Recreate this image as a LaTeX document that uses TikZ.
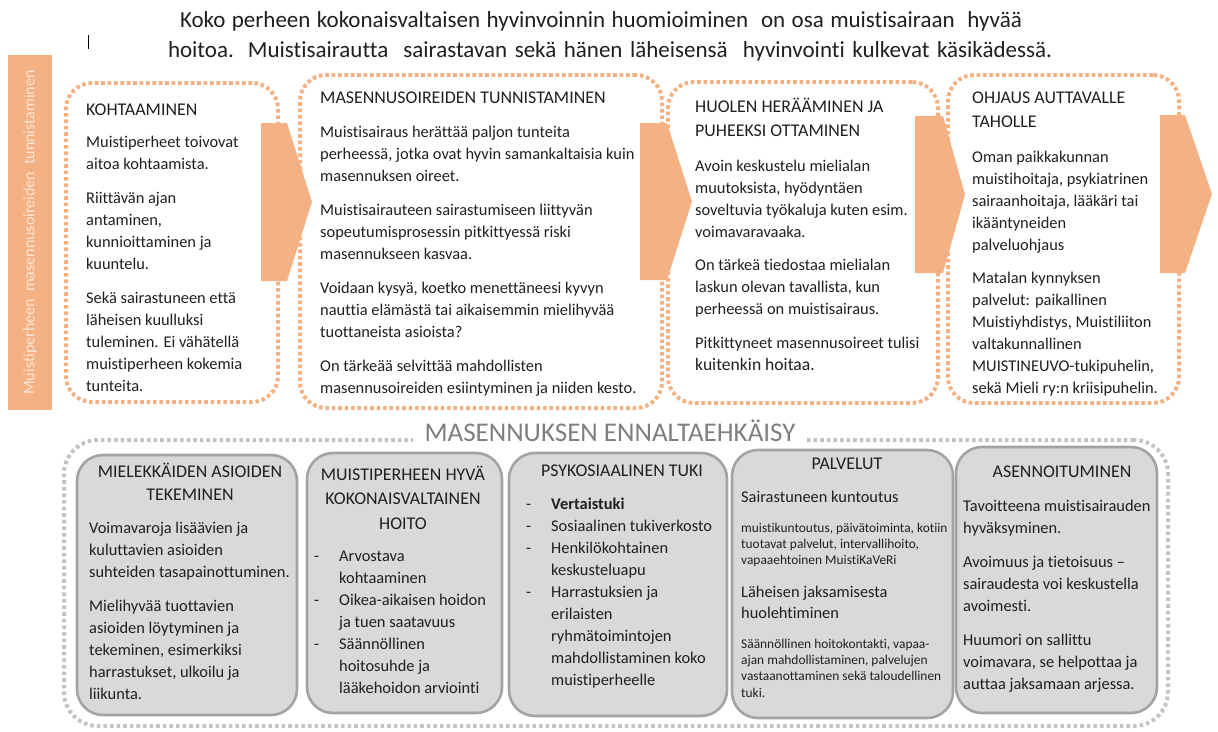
\documentclass[tikz,border=0pt]{standalone}
\usepackage{fontspec}
\setmainfont{Carlito}[Ligatures={NoCommon,NoContextual}]
\definecolor{org}{HTML}{F4B183}
\definecolor{gbd}{HTML}{A3A3A3}
\definecolor{gfill}{HTML}{D9D9D9}
\definecolor{gdot}{HTML}{C4C4C4}
\definecolor{ink}{HTML}{1F1F1F}
\definecolor{htitle}{HTML}{7F7F7F}
\definecolor{bartext}{HTML}{FCE6D8}
\newcommand{\bdash}{\makebox[25pt][l]{-}}
\newcommand{\bind}{\hspace*{25pt}}
\begin{document}
\begin{tikzpicture}[x=1pt,y=-1pt,
  obox/.style={draw=org, line width=4pt, dash pattern=on 3.6pt off 2.8pt, rounded corners=26pt, inner sep=0},
  gdotbox/.style={draw=gdot, line width=4pt, dash pattern=on 3.6pt off 3pt, rounded corners=34pt, inner sep=0},
  gbox/.style={draw=gbd, fill=gfill, line width=2.6pt, rounded corners=26pt, inner sep=0},
  chev/.style={fill=org},
  body/.style={anchor=north west, inner sep=0, align=left, text=ink, font=\fontsize{16.4}{22}\selectfont},
  small/.style={anchor=north west, inner sep=0, align=left, text=ink, font=\fontsize{13.4}{16.4}\selectfont},
  headl/.style={anchor=north west, inner sep=0, align=left, text=ink, font=\fontsize{17.9}{23.5}\selectfont},
  headc/.style={anchor=north, inner sep=0, align=center, text=ink, font=\fontsize{17.9}{23.5}\selectfont},
  ttl/.style={inner sep=0, text=ink, font=\fontsize{23}{28}\selectfont},
]
\useasboundingbox (0,0) rectangle (1218,731);

% title
\node[ttl] (t1) at (601,21) {\makebox[842pt][s]{Koko perheen kokonaisvaltaisen hyvinvoinnin huomioiminen\ \ on osa muistisairaan\ \ hyvää}};
\node[ttl] (t2) at (610,51) {\makebox[884pt][s]{hoitoa. Muistisairautta\ \ sairastavan sekä hänen läheisensä\ \ hyvinvointi kulkevat käsikädessä.}};
\draw[line width=1pt, black] (88,35) -- (88,49);

% left bar
\node[fill=org, minimum width=44pt, minimum height=355pt, inner sep=0] (bar) at (30,232.5) {};
\node[rotate=90, inner sep=0, text=bartext, font=\fontsize{16}{19}\selectfont] (bartxt) at (bar.center) {Muistiperheen\ \ masennusoireiden\ \ tunnistaminen};

% orange dotted boxes
\node[obox, minimum width=212pt, minimum height=319pt] (b1) at (172,242.5) {};
\node[obox, minimum width=362pt, minimum height=333pt] (b2) at (481,241.5) {};
\node[obox, minimum width=270pt, minimum height=321pt] (b3) at (803,242.5) {};
\node[obox, minimum width=231pt, minimum height=328pt] (b4) at (1063.5,239) {};

% chevrons
\fill[chev] (261,123) -- (287,123) -- (312,202) -- (287,281) -- (261,281) -- cycle;
\fill[chev] (640,123) -- (667,123) -- (692,201.5) -- (667,280) -- (640,280) -- cycle;
\fill[chev] (915,116) -- (943,116) -- (965,194.5) -- (943,273) -- (915,273) -- cycle;
\fill[chev] (1160,115) -- (1185,115) -- (1212,194) -- (1185,273) -- (1160,273) -- cycle;

% box 1 text
\node[headl] (b1h) at (86,99) {\strut KOHTAAMINEN};
\node[body] (b1t) at (86,132) {\strut Muistiperheet toivovat\\aitoa kohtaamista.\\[12pt]Riittävän ajan\\antaminen,\\kunnioittaminen ja\\kuuntelu.\\[12pt]Sekä sairastuneen että\\läheisen kuulluksi\\tuleminen. Ei vähätellä\\muistiperheen kokemia\\tunteita.};

% box 2 text
\node[headl] (b2h) at (320,87) {\strut MASENNUSOIREIDEN TUNNISTAMINEN};
\node[body] (b2t) at (320,122) {\strut Muistisairaus herättää paljon tunteita\\perheessä, jotka ovat hyvin samankaltaisia kuin\\masennuksen oireet.\\[12pt]Muistisairauteen sairastumiseen liittyvän\\sopeutumisprosessin pitkittyessä riski\\masennukseen kasvaa.\\[12pt]Voidaan kysyä, koetko menettäneesi kyvyn\\nauttia elämästä tai aikaisemmin mielihyvää\\tuottaneista asioista?\\[12pt]On tärkeää selvittää mahdollisten\\masennusoireiden esiintyminen ja niiden kesto.};

% box 3 text
\node[headl] (b3h) at (695,96) {\strut HUOLEN HERÄÄMINEN JA\\PUHEEKSI OTTAMINEN};
\node[body] (b3t) at (695,156) {\strut Avoin keskustelu mielialan\\muutoksista, hyödyntäen\\soveltuvia työkaluja kuten esim.\\voimavaravaaka.\\[11pt]On tärkeä tiedostaa mielialan\\laskun olevan tavallista, kun\\perheessä on muistisairaus.\\[12pt]Pitkittyneet masennusoireet tulisi\\{\fontsize{17.6}{22}\selectfont kuitenkin hoitaa.}};

% box 4 text
\node[headl] (b4h) at (972,87) {\strut OHJAUS AUTTAVALLE\\TAHOLLE};
\node[body] (b4t) at (972,147) {\strut Oman paikkakunnan\\muistihoitaja, psykiatrinen\\sairaanhoitaja, lääkäri tai\\ikääntyneiden\\palveluohjaus\\[11pt]Matalan kynnyksen\\palvelut: paikallinen\\Muistiyhdistys, Muistiliiton\\valtakunnallinen\\MUISTINEUVO-tukipuhelin,\\sekä Mieli ry:n kriisipuhelin.};

% prevention frame
\node[gdotbox, minimum width=1104pt, minimum height=286pt] (prev) at (616,583) {};
\node[fill=white, inner xsep=12pt, inner ysep=2pt, text=htitle, font=\fontsize{27}{32}\selectfont] (ptitle) at (610,431) {MASENNUKSEN ENNALTAEHKÄISY};

% gray boxes
\node[gbox, minimum width=220pt, minimum height=260pt] (ga) at (187,585) {};
\node[gbox, minimum width=195pt, minimum height=260pt] (gb) at (404.5,583) {};
\node[gbox, minimum width=218pt, minimum height=263pt] (gc) at (618,584.5) {};
\node[gbox, minimum width=221pt, minimum height=268pt] (gd) at (842.5,584) {};
\node[gbox, minimum width=201pt, minimum height=266pt] (ge) at (1056.5,580) {};

% box A
\node[headc, font=\fontsize{17.9}{23}\selectfont] (gah) at (190,461) {\strut MIELEKKÄIDEN ASIOIDEN\\TEKEMINEN};
\node[body] (gat) at (89,518) {\strut Voimavaroja lisäävien ja\\kuluttavien asioiden\\suhteiden tasapainottuminen.\\[12pt]Mielihyvää tuottavien\\asioiden löytyminen ja\\tekeminen, esimerkiksi\\harrastukset, ulkoilu ja\\liikunta.};

% box B
\node[headc, font=\fontsize{17.9}{24.5}\selectfont] (gbh) at (403,463) {\strut MUISTIPERHEEN HYVÄ\\KOKONAISVALTAINEN\\HOITO};
\node[body] (gbt) at (314,546) {\strut\bdash Arvostava\\\bind kohtaaminen\\\bdash Oikea-aikaisen hoidon\\\bind ja tuen saatavuus\\\bdash Säännöllinen\\\bind hoitosuhde ja\\\bind lääkehoidon arviointi};

% box C
\node[headc] (gch) at (622,460) {\strut PSYKOSIAALINEN TUKI};
\node[body] (gct) at (526,494) {\strut\bdash\textbf{Vertaistuki}\\\bdash Sosiaalinen tukiverkosto\\\bdash Henkilökohtainen\\\bind keskusteluapu\\\bdash Harrastuksien ja\\\bind erilaisten\\\bind ryhmätoimintojen\\\bind mahdollistaminen koko\\\bind muistiperheelle};

% box D
\node[headc] (gdh) at (847,453) {\strut PALVELUT};
\node[body] (gdt1) at (741,487) {\strut Sairastuneen kuntoutus};
\node[small] (gds1) at (741,520.5) {\strut muistikuntoutus, päivätoiminta, kotiin\\tuotavat palvelut, intervallihoito,\\vapaaehtoinen MuistiKaVeRi};
\node[body, font=\fontsize{16.4}{21}\selectfont] (gdt2) at (741,582.5) {\strut Läheisen jaksamisesta\\huolehtiminen};
\node[small] (gds2) at (741,636.5) {\strut Säännöllinen hoitokontakti, vapaa-\\ajan mahdollistaminen, palvelujen\\vastaanottaminen sekä taloudellinen\\tuki.};

% box E
\node[headc] (geh) at (1062,461) {\strut ASENNOITUMINEN};
\node[body] (get) at (963,496) {\strut Tavoitteena muistisairauden\\hyväksyminen.\\[12pt]Avoimuus ja tietoisuus --\\sairaudesta voi keskustella\\avoimesti.\\[12pt]Huumori on sallittu\\voimavara, se helpottaa ja\\auttaa jaksamaan arjessa.};

\end{tikzpicture}
\end{document}
